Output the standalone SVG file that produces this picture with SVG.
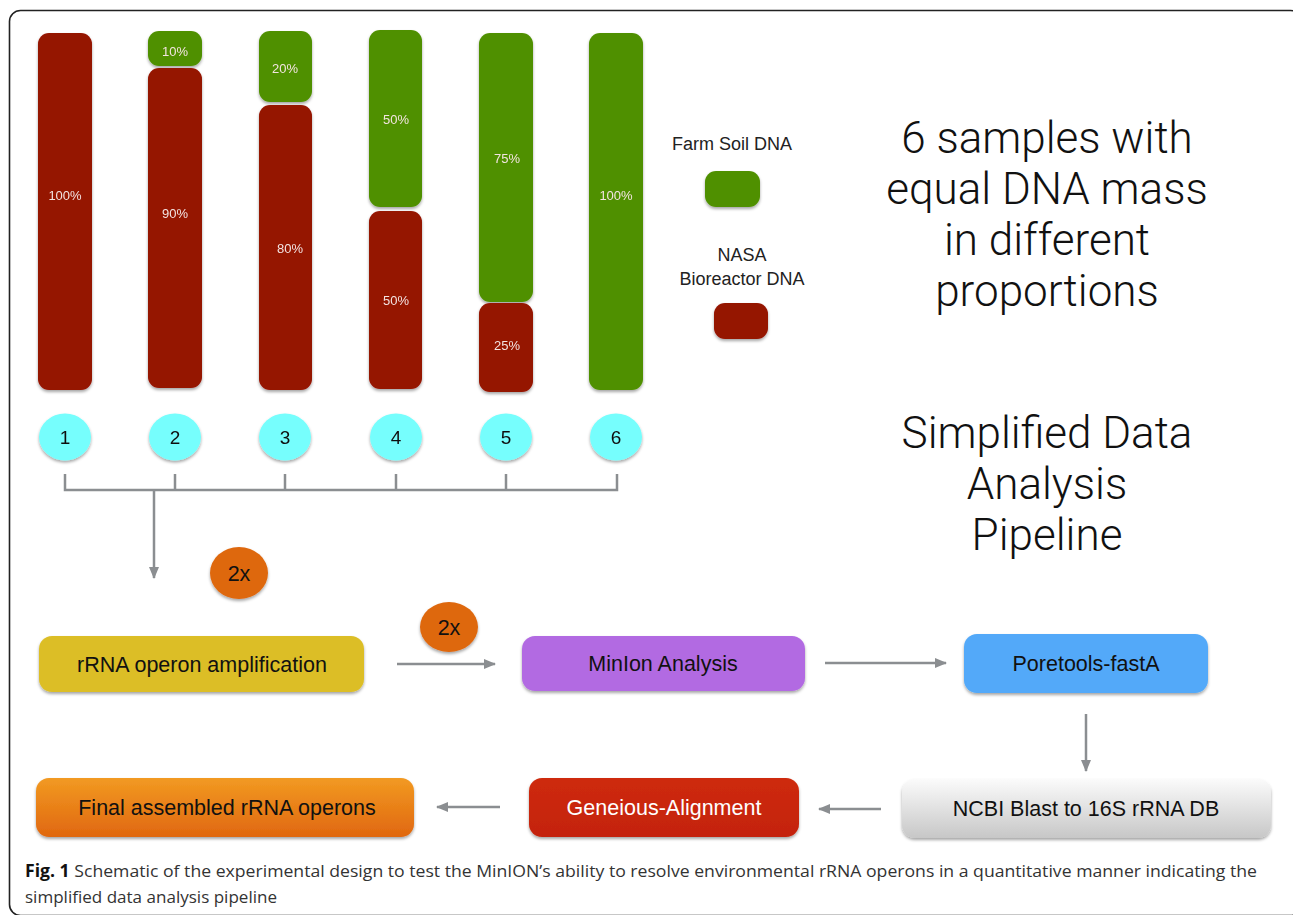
<svg xmlns="http://www.w3.org/2000/svg" width="1293" height="915" viewBox="0 0 1293 915">
<defs>
<style>
.bar-r{fill:#951300}
.bar-g{fill:#509000}
.pct{font-family:"Liberation Sans",Arial,sans-serif;font-size:13px;fill:#f2e4e0;text-anchor:middle}
.num{font-family:"Liberation Sans",Arial,sans-serif;font-size:19px;fill:#111;text-anchor:middle}
.big{font-family:Roboto,"Liberation Sans",sans-serif;font-weight:300;font-size:44px;fill:#111;text-anchor:middle}
.leg{font-family:"Liberation Sans",Arial,sans-serif;font-size:18px;fill:#222;text-anchor:middle}
.box{font-family:"Liberation Sans",Arial,sans-serif;font-size:21.5px;text-anchor:middle}
.conn{stroke:#8b8e91;stroke-width:2.5;fill:none}
.cap{font-family:"Open Sans","Liberation Sans",sans-serif;font-size:17px;fill:#333}
</style>
<filter id="sh" x="-10%" y="-10%" width="120%" height="130%">
<feDropShadow dx="0" dy="2" stdDeviation="1.8" flood-color="#000" flood-opacity="0.35"/>
</filter>
<marker id="ah" viewBox="0 0 12 10" refX="11" refY="5" markerWidth="12" markerHeight="10" markerUnits="userSpaceOnUse" orient="auto">
<path d="M0,0 L12,5 L0,10 Z" fill="#8b8e91"/>
</marker>
<linearGradient id="gFinal" x1="0" y1="0" x2="0" y2="1">
<stop offset="0" stop-color="#F29A22"/>
<stop offset="1" stop-color="#E0670F"/>
</linearGradient>
<linearGradient id="gNcbi" x1="0" y1="0" x2="0" y2="1">
<stop offset="0" stop-color="#FBFBFB"/>
<stop offset="1" stop-color="#C7C7C7"/>
</linearGradient>
<linearGradient id="gGen" x1="0" y1="0" x2="0" y2="1">
<stop offset="0" stop-color="#CE2A0A"/>
<stop offset="1" stop-color="#C42308"/>
</linearGradient>
</defs>
<rect x="0" y="0" width="1293" height="915" fill="#fff"/>
<rect x="9.5" y="10.5" width="1292" height="905" rx="11" fill="none" stroke="#222" stroke-width="1.6"/>

<g id="sample-bars" filter="url(#sh)">
<g id="bar1"><rect class="bar-r" x="38" y="33" width="54" height="357" rx="11"/><text class="pct" x="65" y="200">100%</text></g>
<g id="bar2"><rect class="bar-g" x="148" y="31" width="54" height="35" rx="11"/><text class="pct" x="175" y="56">10%</text><rect class="bar-r" x="148" y="68" width="54" height="320" rx="11"/><text class="pct" x="175" y="218">90%</text></g>
<g id="bar3"><rect class="bar-g" x="259" y="31" width="53" height="71" rx="11"/><text class="pct" x="285" y="73">20%</text><rect class="bar-r" x="259" y="105" width="53" height="285" rx="11"/><text class="pct" x="290" y="253">80%</text></g>
<g id="bar4"><rect class="bar-g" x="369" y="30" width="53" height="177" rx="11"/><text class="pct" x="396" y="124">50%</text><rect class="bar-r" x="369" y="211" width="53" height="178" rx="11"/><text class="pct" x="396" y="305">50%</text></g>
<g id="bar5"><rect class="bar-g" x="479" y="33" width="54" height="269" rx="11"/><text class="pct" x="507" y="163">75%</text><rect class="bar-r" x="479" y="303" width="54" height="89" rx="11"/><text class="pct" x="507" y="350">25%</text></g>
<g id="bar6"><rect class="bar-g" x="589" y="33" width="54" height="357" rx="11"/><text class="pct" x="616" y="200">100%</text></g>
</g>

<g id="legend">
<text class="leg" x="732" y="150">Farm Soil DNA</text>
<rect class="bar-g" x="705" y="171" width="55" height="36" rx="11" filter="url(#sh)"/>
<text class="leg" x="742" y="261">NASA</text>
<text class="leg" x="742" y="285">Bioreactor DNA</text>
<rect class="bar-r" x="714" y="303" width="54" height="36" rx="11" filter="url(#sh)"/>
</g>

<g id="title1">
<text class="big" x="1047" y="153">6 samples with</text>
<text class="big" x="1047" y="204">equal DNA mass</text>
<text class="big" x="1047" y="255">in different</text>
<text class="big" x="1047" y="306">proportions</text>
</g>
<g id="title2">
<text class="big" x="1047" y="448">Simplified Data</text>
<text class="big" x="1047" y="499">Analysis</text>
<text class="big" x="1047" y="550">Pipeline</text>
</g>

<g id="sample-circles" filter="url(#sh)">
<g id="s1"><ellipse cx="65" cy="437" rx="26" ry="23.5" fill="#76FEFD"/><text class="num" x="65" y="444">1</text></g>
<g id="s2"><ellipse cx="175" cy="437" rx="26" ry="23.5" fill="#76FEFD"/><text class="num" x="175" y="444">2</text></g>
<g id="s3"><ellipse cx="285" cy="437" rx="26" ry="23.5" fill="#76FEFD"/><text class="num" x="285" y="444">3</text></g>
<g id="s4"><ellipse cx="396" cy="437" rx="26" ry="23.5" fill="#76FEFD"/><text class="num" x="396" y="444">4</text></g>
<g id="s5"><ellipse cx="506" cy="437" rx="26" ry="23.5" fill="#76FEFD"/><text class="num" x="506" y="444">5</text></g>
<g id="s6"><ellipse cx="616" cy="437" rx="26" ry="23.5" fill="#76FEFD"/><text class="num" x="616" y="444">6</text></g>
</g>

<g id="connectors">
<path class="conn" d="M65,474 V490 H617 V474 M175,474 V490 M285,474 V490 M396,474 V490 M506,474 V490"/>
<path class="conn" d="M154,490 V578" marker-end="url(#ah)"/>
<path class="conn" d="M397,664 H495" marker-end="url(#ah)"/>
<path class="conn" d="M825,663 H946" marker-end="url(#ah)"/>
<path class="conn" d="M1086,714 V771" marker-end="url(#ah)"/>
<path class="conn" d="M881,809 H819" marker-end="url(#ah)"/>
<path class="conn" d="M500,807 H437" marker-end="url(#ah)"/>
</g>

<g id="rep1"><ellipse cx="239" cy="573" rx="29" ry="26" fill="#DE6811" filter="url(#sh)"/><text class="box" x="239" y="581" fill="#111">2x</text></g>
<g id="rep2"><ellipse cx="449" cy="627" rx="29" ry="25" fill="#DE6811" filter="url(#sh)"/><text class="box" x="449" y="635" fill="#111">2x</text></g>

<g id="n-rrna"><rect x="39" y="636" width="325" height="56" rx="13" fill="#DCBE28" filter="url(#sh)"/><text class="box" x="202" y="672" fill="#111">rRNA operon amplification</text></g>
<g id="n-minion"><rect x="522" y="636" width="283" height="55" rx="13" fill="#B26BE2" filter="url(#sh)"/><text class="box" x="663" y="671" fill="#111">MinIon Analysis</text></g>
<g id="n-pore"><rect x="964" y="634" width="244" height="59" rx="13" fill="#52A9F9" filter="url(#sh)"/><text class="box" x="1086" y="671" fill="#111">Poretools-fastA</text></g>
<g id="n-ncbi"><rect x="902" y="779" width="369" height="59" rx="13" fill="url(#gNcbi)" filter="url(#sh)"/><text class="box" x="1086" y="816" fill="#111">NCBI Blast to 16S rRNA DB</text></g>
<g id="n-gen"><rect x="529" y="778" width="270" height="59" rx="13" fill="url(#gGen)" filter="url(#sh)"/><text class="box" x="664" y="815" fill="#fff">Geneious-Alignment</text></g>
<g id="n-final"><rect x="36" y="778" width="378" height="59" rx="13" fill="url(#gFinal)" filter="url(#sh)"/><text class="box" x="227" y="815" fill="#111">Final assembled rRNA operons</text></g>

<g id="caption">
<text class="cap" x="25" y="877" textLength="1232" lengthAdjust="spacingAndGlyphs"><tspan font-weight="bold" fill="#111">Fig. 1</tspan> Schematic of the experimental design to test the MinION’s ability to resolve environmental rRNA operons in a quantitative manner indicating the</text>
<text class="cap" x="25" y="903" textLength="252" lengthAdjust="spacingAndGlyphs">simplified data analysis pipeline</text>
</g>
</svg>
